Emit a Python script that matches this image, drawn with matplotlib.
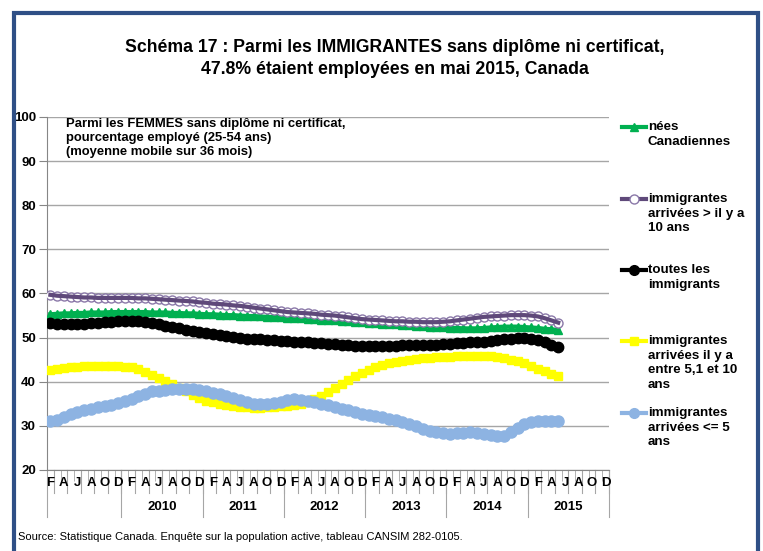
import numpy as np
import matplotlib
matplotlib.use("Agg")
import matplotlib.pyplot as plt
from matplotlib.lines import Line2D
from matplotlib.patches import Rectangle
from matplotlib.transforms import blended_transform_factory

plt.rcParams['font.family'] = ['Liberation Sans', 'DejaVu Sans']

#%% Data #####################################################################
# monthly categories Feb 2009 .. Dec 2015, data up to May 2015
month_letters = ['J', 'F', 'M', 'A', 'M', 'J', 'J', 'A', 'S', 'O', 'N', 'D']
years = [2009, 2010, 2011, 2012, 2013, 2014, 2015]
first_month = 1          # February (0 = January)
n_categories = 83

nees_canadiennes = [
    55.3, 55.4, 55.5, 55.5, 55.6, 55.6, 55.7, 55.7, 55.7, 55.8, 55.8, 55.8,
    55.8, 55.8, 55.8, 55.7, 55.7, 55.7, 55.6, 55.6, 55.5, 55.5, 55.4, 55.3,
    55.3, 55.2, 55.1, 55.1, 55.0, 54.9, 54.9, 54.8, 54.7, 54.7, 54.6, 54.5,
    54.5, 54.4, 54.3, 54.2, 54.1, 54.0, 53.9, 53.8, 53.7, 53.6, 53.5, 53.4,
    53.3, 53.2, 53.1, 53.0, 52.9, 52.8, 52.7, 52.6, 52.5, 52.4, 52.3, 52.2,
    52.2, 52.1, 52.1, 52.1, 52.2, 52.3, 52.4, 52.5, 52.5, 52.5, 52.4, 52.3,
    52.2, 52.0, 51.9, 51.7]
plus_10_ans = [
    59.7, 59.5, 59.4, 59.3, 59.2, 59.1, 59.1, 59.0, 59.0, 59.0, 59.0, 59.0,
    59.0, 58.9, 58.9, 58.8, 58.7, 58.6, 58.5, 58.4, 58.3, 58.2, 58.0, 57.9,
    57.7, 57.6, 57.5, 57.3, 57.2, 57.0, 56.8, 56.6, 56.4, 56.2, 56.0, 55.8,
    55.7, 55.6, 55.5, 55.4, 55.2, 55.1, 55.0, 54.8, 54.6, 54.4, 54.2, 54.1,
    54.0, 53.9, 53.8, 53.7, 53.7, 53.6, 53.6, 53.5, 53.5, 53.5, 53.6, 53.7,
    53.9, 54.1, 54.3, 54.5, 54.7, 54.8, 54.9, 55.0, 55.1, 55.1, 55.1, 55.0,
    54.8, 54.4, 53.9, 53.4]
toutes_immigrants = [
    53.3, 53.2, 53.1, 53.1, 53.1, 53.2, 53.3, 53.4, 53.5, 53.6, 53.7, 53.8,
    53.8, 53.7, 53.5, 53.3, 53.0, 52.7, 52.4, 52.1, 51.8, 51.5, 51.2, 51.0,
    50.8, 50.6, 50.4, 50.2, 50.0, 49.8, 49.7, 49.6, 49.5, 49.4, 49.3, 49.2,
    49.1, 49.0, 48.9, 48.8, 48.7, 48.6, 48.5, 48.4, 48.3, 48.2, 48.2, 48.2,
    48.2, 48.2, 48.2, 48.2, 48.3, 48.3, 48.3, 48.3, 48.3, 48.4, 48.5, 48.6,
    48.7, 48.8, 48.9, 49.0, 49.1, 49.2, 49.4, 49.6, 49.8, 49.9, 49.9, 49.7,
    49.4, 49.0, 48.4, 47.8]
entre_5_10_ans = [
    42.7, 42.9, 43.1, 43.3, 43.4, 43.5, 43.6, 43.6, 43.6, 43.6, 43.5, 43.4,
    43.3, 42.9, 42.3, 41.6, 40.9, 40.2, 39.4, 38.6, 37.8, 37.0, 36.3, 35.7,
    35.3, 35.0, 34.7, 34.5, 34.3, 34.2, 34.1, 34.1, 34.2, 34.3, 34.4, 34.5,
    34.7, 35.0, 35.5, 36.1, 36.8, 37.6, 38.5, 39.5, 40.4, 41.2, 42.0, 42.7,
    43.3, 43.8, 44.2, 44.5, 44.8, 45.0, 45.2, 45.3, 45.4, 45.5, 45.6, 45.7,
    45.8, 45.8, 45.9, 45.9, 45.9, 45.8, 45.6, 45.4, 45.0, 44.6, 44.2, 43.6,
    43.0, 42.4, 41.8, 41.3]
moins_5_ans = [
    31.0, 31.4, 32.0, 32.8, 33.2, 33.5, 33.9, 34.2, 34.5, 34.8, 35.2, 35.6,
    36.2, 36.8, 37.3, 37.8, 38.0, 38.2, 38.3, 38.3, 38.3, 38.3, 38.1, 37.8,
    37.5, 37.2, 36.8, 36.3, 35.8, 35.3, 35.0, 34.9, 35.0, 35.1, 35.4, 35.8,
    36.0, 35.9, 35.6, 35.3, 35.0, 34.7, 34.3, 33.9, 33.5, 33.2, 32.8, 32.5,
    32.2, 31.9, 31.6, 31.3, 30.8, 30.4, 29.9, 29.4, 28.9, 28.6, 28.3, 28.2,
    28.3, 28.4, 28.5, 28.4, 28.2, 27.9, 27.6, 27.8, 28.6, 29.6, 30.4, 30.8,
    31.0, 31.0, 31.0, 31.0]

labels = ["nées\nCanadiennes",
          "immigrantes\narrivées > il y a\n10 ans",
          "toutes les\nimmigrants",
          "immigrantes\narrivées il y a\nentre 5,1 et 10\nans",
          "immigrantes\narrivées <= 5\nans"]

#%% Plot #####################################################################
W, H = 763, 551
fig = plt.figure(figsize=(W/100, H/100), dpi=100)

def fx(px):
    return px / W

def fy(py):
    return 1 - py / H

ax = fig.add_axes([fx(47), fy(470), (609-47)/W, (470-117)/H])

x = np.arange(len(nees_canadiennes))
green, purple, lav = '#00b050', '#5f497a', '#8a78a8'
blue = '#8db3e2'

ax.plot(x, nees_canadiennes, color=green, lw=3, marker='^', ms=6,
        mfc=green, mec=green, zorder=3)
ax.plot(x, plus_10_ans, ls='none', marker='o', ms=6.5, mfc='white',
        mec=lav, mew=1, zorder=4)
ax.plot(x, plus_10_ans, color=purple, lw=3, zorder=4)
ax.plot(x, toutes_immigrants, color='black', lw=3, marker='o', ms=7.5,
        mfc='black', mec='black', zorder=5)
ax.plot(x, entre_5_10_ans, color='#ffff00', lw=3, marker='s', ms=6,
        mfc='#ffff00', mec='#ffff00', zorder=6)
ax.plot(x, moins_5_ans, color=blue, lw=3, marker='o', ms=8,
        mfc=blue, mec=blue, zorder=7)

ax.set_ylim(20, 100)
ax.set_yticks(np.arange(20, 101, 10))
ax.set_yticklabels([str(v) for v in range(20, 101, 10)],
                   fontweight='bold', fontsize=9.5)
ax.yaxis.grid(True, color='#a6a6a6', lw=1)
ax.set_axisbelow(True)
ax.tick_params(axis='y', length=6, color='#868686', pad=2)
for s in ['top', 'right']:
    ax.spines[s].set_visible(False)
for s in ['left', 'bottom']:
    ax.spines[s].set_color('#868686')

ax.set_xlim(-0.5, n_categories - 0.5)
ax.set_xticks([])
ax.set_xticks(np.arange(-0.5, n_categories, 1), minor=True)
ax.tick_params(axis='x', which='minor', length=8, color='#a6a6a6')

tr = blended_transform_factory(ax.transData, ax.transAxes)
for i in range(0, n_categories, 2):
    m = (first_month + i) % 12
    ax.text(i, -0.038, month_letters[m], transform=tr, ha='center',
            va='center', fontsize=9.5, fontweight='bold')
    ax.plot([i + 0.5, i + 0.5], [0, -0.065], transform=tr, color='#a6a6a6',
            lw=0.8, clip_on=False)

# year blocks
start = -0.5
for k, yr in enumerate(years):
    n = 12 - first_month if k == 0 else 12
    end = start + n
    ax.plot([end, end], [0, -0.133], transform=tr, color='#a6a6a6',
            lw=0.8, clip_on=False)
    if k > 0:
        ax.text((start + end) / 2, -0.105, str(yr), transform=tr,
                ha='center', va='center', fontsize=9.5, fontweight='bold')
    start = end
ax.plot([-0.5, -0.5], [0, -0.133], transform=tr, color='#a6a6a6',
        lw=0.8, clip_on=False)

ax.text(fx(66), fy(118), "Parmi les FEMMES sans diplôme ni certificat,\n"
        "pourcentage employé (25-54 ans)\n(moyenne mobile sur 36 mois)",
        transform=fig.transFigure, ha='left', va='top', fontsize=9.4,
        fontweight='bold', linespacing=1.25)

# title
fig.text(fx(395), fy(47), "Schéma 17 : Parmi les IMMIGRANTES sans diplôme ni certificat,",
         ha='center', va='center', fontsize=12.7, fontweight='bold')
fig.text(fx(395), fy(70), "47.8% étaient employées en mai 2015, Canada",
         ha='center', va='center', fontsize=12.7, fontweight='bold')

# legend drawn by hand
styles = [dict(color=green, marker='^', mfc=green, mec=green, ms=6),
          dict(color=purple, marker='o', mfc='white', mec=lav, ms=6.5),
          dict(color='black', marker='o', mfc='black', mec='black', ms=7),
          dict(color='#ffff00', marker='s', mfc='#ffff00', mec='#ffff00', ms=6),
          dict(color=blue, marker='o', mfc=blue, mec=blue, ms=7)]
leg_y = [127, 199, 270, 341, 413]
for lab, st, yy in zip(labels, styles, leg_y):
    fig.add_artist(Line2D([fx(622), fx(646)], [fy(yy), fy(yy)], lw=3,
                          transform=fig.transFigure, color=st['color']))
    fig.add_artist(Line2D([fx(634)], [fy(yy)], lw=0,
                          transform=fig.transFigure,
                          **{k: v for k, v in st.items() if k != 'color'}))
    fig.text(fx(648), fy(yy - 6), lab, ha='left', va='top', fontsize=9.6,
             fontweight='bold', linespacing=1.3)

fig.text(fx(18), fy(537), "Source: Statistique Canada. Enquête sur la population active, "
         "tableau CANSIM 282-0105.", ha='left', va='center', fontsize=8)

# frame
fig.add_artist(Rectangle((fx(13.5), fy(580)), fx(758) - fx(13.5), fy(12.5) - fy(580),
                         transform=fig.transFigure, fill=False,
                         edgecolor='#2f4f86', lw=3))

fig.savefig("out.png", dpi=100)
